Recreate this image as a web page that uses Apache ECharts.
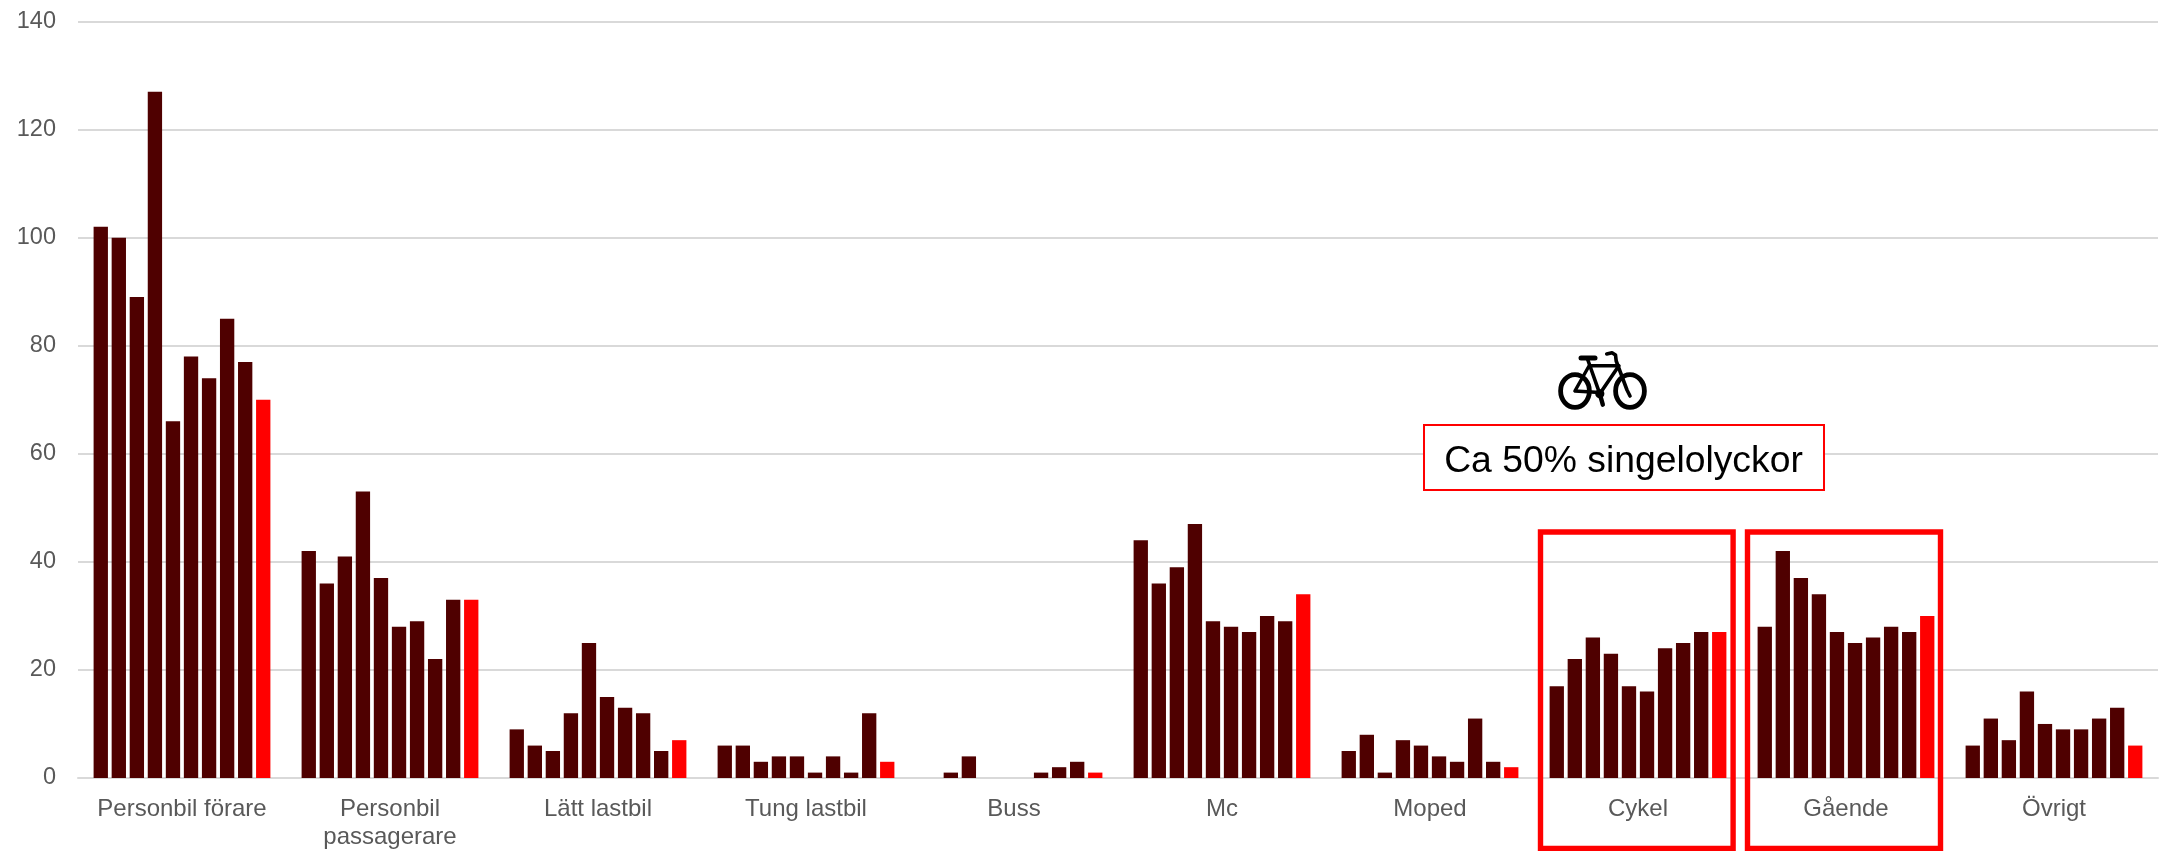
<!DOCTYPE html>
<html>
<head>
<meta charset="utf-8">
<style>html,body{margin:0;padding:0;background:#fff}#c{width:2160px;height:851px}</style>
<script src="https://cdn.jsdelivr.net/npm/echarts@6/dist/echarts.min.js"></script>
</head>
<body>
<div id="c"></div>
<script>
const categories = ['Personbil förare','Personbil\npassagerare','Lätt lastbil','Tung lastbil','Buss','Mc','Moped','Cykel','Gående','Övrigt'];
const personbilForare = [102,100,89,127,66,78,74,85,77,70];
const personbilPassagerare = [42,36,41,53,37,28,29,22,33,33];
const lattLastbil = [9,6,5,12,25,15,13,12,5,7];
const tungLastbil = [6,6,3,4,4,1,4,1,12,3];
const buss = [0,1,4,0,0,0,1,2,3,1];
const mc = [44,36,39,47,29,28,27,30,29,34];
const moped = [5,8,1,7,6,4,3,11,3,2];
const cykel = [17,22,26,23,17,16,24,25,27,27];
const gaende = [28,42,37,34,27,25,26,28,27,30];
const ovrigt = [6,11,7,16,10,9,9,11,13,6];
const rows = [personbilForare,personbilPassagerare,lattLastbil,tungLastbil,buss,mc,moped,cykel,gaende,ovrigt];
const dark = '#4f0000', red = '#ff0000';
const font = '"Liberation Sans", Arial, sans-serif';

const series = rows[0].map((_, i) => ({
  type: 'bar',
  data: rows.map(r => r[i]),
  barGap: '26%',
  barCategoryGap: '15%',
  itemStyle: { color: i === 9 ? red : dark },
  silent: true
}));

const stroke = (w) => ({ stroke: '#000', lineWidth: w, fill: null, lineCap: 'round', lineJoin: 'round' });
const line = (pts, w) => ({ type: 'polyline', z: 20, shape: { points: pts }, style: stroke(w) });
const wheel = (cx) => ({ type: 'ellipse', z: 20, shape: { cx: cx, cy: 391, rx: 14.4, ry: 16.4 }, style: stroke(4.8) });

const graphic = [
  { type:'rect', z:10, shape:{x:1540.5,y:532,width:192.6,height:316.5}, style:{fill:null,stroke:red,lineWidth:5.4} },
  { type:'rect', z:10, shape:{x:1747.5,y:532,width:193,height:316.5}, style:{fill:null,stroke:red,lineWidth:5.4} },
  { type:'rect', z:10, shape:{x:1424,y:425,width:400,height:65}, style:{fill:'#fff',stroke:red,lineWidth:2} },
  { type:'text', z:11, style:{x:1623.5,y:462,text:'Ca 50% singelolyckor',fill:'#000',font:'37.3px '+font,align:'center',verticalAlign:'middle'} },
  wheel(1575), wheel(1630),
  line([[1581,358],[1595,358]], 5),
  line([[1587.5,359],[1599.8,393.8],[1618.9,365.7],[1590.2,365.7]], 3.6),
  line([[1589,366],[1574.9,391],[1599.8,392.5]], 3.4),
  line([[1630,396],[1627,390],[1616.2,361],[1615.5,355],[1612,352.8],[1606.7,353.9]], 3.6),
  line([[1599.8,393.8],[1602.8,404.7]], 4.4),
  { type:'circle', z:20, shape:{cx:1599.8,cy:393.8,r:4.6}, style:{fill:'#000'} }
];

const chart = echarts.init(document.getElementById('c'), null, { renderer: 'canvas' });
chart.setOption({
  animation: false,
  backgroundColor: '#fff',
  grid: { left: 78, right: 2, top: 21.5, height: 756.5, containLabel: false },
  xAxis: {
    type: 'category',
    data: categories,
    axisTick: { show: false },
    axisLine: { lineStyle: { color: '#d9d9d9', width: 2 } },
    axisLabel: { interval: 0, color: '#595959', fontFamily: font, fontSize: 24, margin: 17, lineHeight: 28 }
  },
  yAxis: {
    type: 'value',
    min: 0, max: 140, interval: 20,
    axisLine: { show: false },
    axisTick: { show: false },
    splitLine: { lineStyle: { color: '#d9d9d9', width: 2 } },
    axisLabel: { color: '#595959', fontFamily: font, fontSize: 23.5, margin: 22, padding: [3,0,0,0] }
  },
  series: series,
  graphic: graphic
});
</script>
</body>
</html>
